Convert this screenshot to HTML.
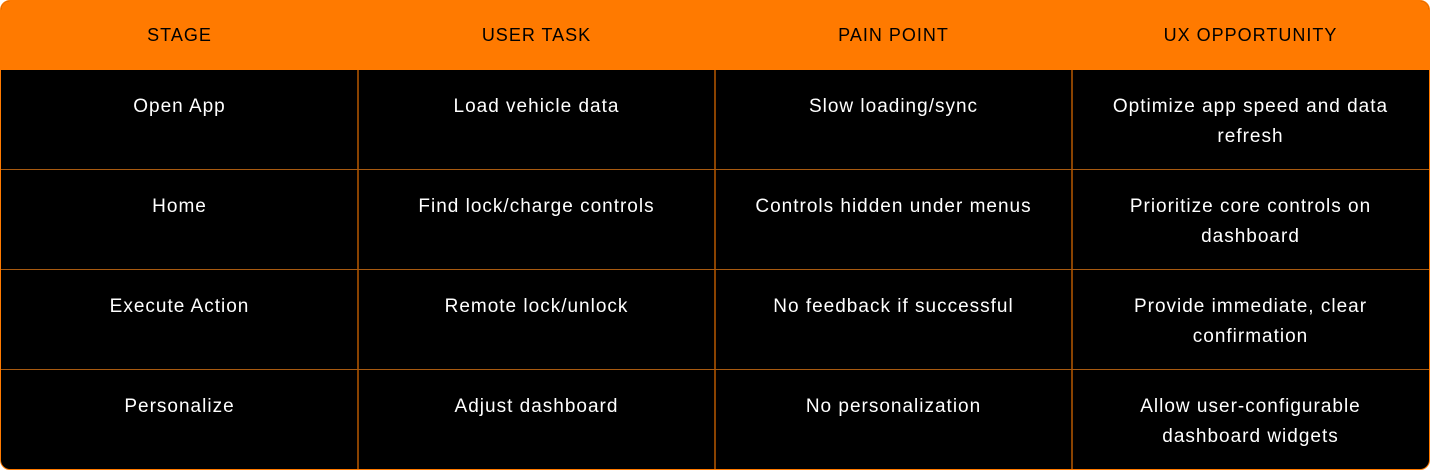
<!DOCTYPE html>
<html><head><style>
html,body{margin:0;padding:0;background:#fff;width:1430px;height:470px;overflow:hidden}
.t{position:absolute;left:0;top:0;width:1428px;height:468px;border:1px solid #ff7a00;border-radius:10px;overflow:hidden;background:#000;font-family:"Liberation Sans",sans-serif;color:#fff}
.h{position:absolute;left:0;top:0;width:100%;height:69px;background:#ff7a00;}
.c{position:absolute;text-align:center;font-size:19px;line-height:30px;letter-spacing:1px;white-space:nowrap}
.hc{position:absolute;top:0;height:69px;line-height:69px;text-align:center;font-size:18px;letter-spacing:1px;color:#000}
.v{position:absolute;top:69px;width:1.5px;height:400px;background:#8a4200}
.hl{position:absolute;left:0;width:100%;height:1px;background:#a85a10}
</style></head><body><div class="t">
<div class="h"></div>
<div class="hc" style="left:0;width:357px">STAGE</div>
<div class="hc" style="left:357px;width:357px">USER TASK</div>
<div class="hc" style="left:714px;width:357px">PAIN POINT</div>
<div class="hc" style="left:1071px;width:357px">UX OPPORTUNITY</div>
<div class="v" style="left:356px"></div><div class="v" style="left:713px"></div><div class="v" style="left:1070px"></div>
<div class="hl" style="top:168px"></div><div class="hl" style="top:268px"></div><div class="hl" style="top:368px"></div>

<div class="c" style="left:0;width:357px;top:91px">Open App</div>
<div class="c" style="left:357px;width:357px;top:91px">Load vehicle data</div>
<div class="c" style="left:714px;width:357px;top:91px">Slow loading/sync</div>
<div class="c" style="left:1071px;width:357px;top:91px">Optimize app speed and data<br>refresh</div>

<div class="c" style="left:0;width:357px;top:191px">Home</div>
<div class="c" style="left:357px;width:357px;top:191px">Find lock/charge controls</div>
<div class="c" style="left:714px;width:357px;top:191px">Controls hidden under menus</div>
<div class="c" style="left:1071px;width:357px;top:191px">Prioritize core controls on<br>dashboard</div>

<div class="c" style="left:0;width:357px;top:291px">Execute Action</div>
<div class="c" style="left:357px;width:357px;top:291px">Remote lock/unlock</div>
<div class="c" style="left:714px;width:357px;top:291px">No feedback if successful</div>
<div class="c" style="left:1071px;width:357px;top:291px">Provide immediate, clear<br>confirmation</div>

<div class="c" style="left:0;width:357px;top:391px">Personalize</div>
<div class="c" style="left:357px;width:357px;top:391px">Adjust dashboard</div>
<div class="c" style="left:714px;width:357px;top:391px">No personalization</div>
<div class="c" style="left:1071px;width:357px;top:391px">Allow user-configurable<br>dashboard widgets</div>
</div></body></html>
